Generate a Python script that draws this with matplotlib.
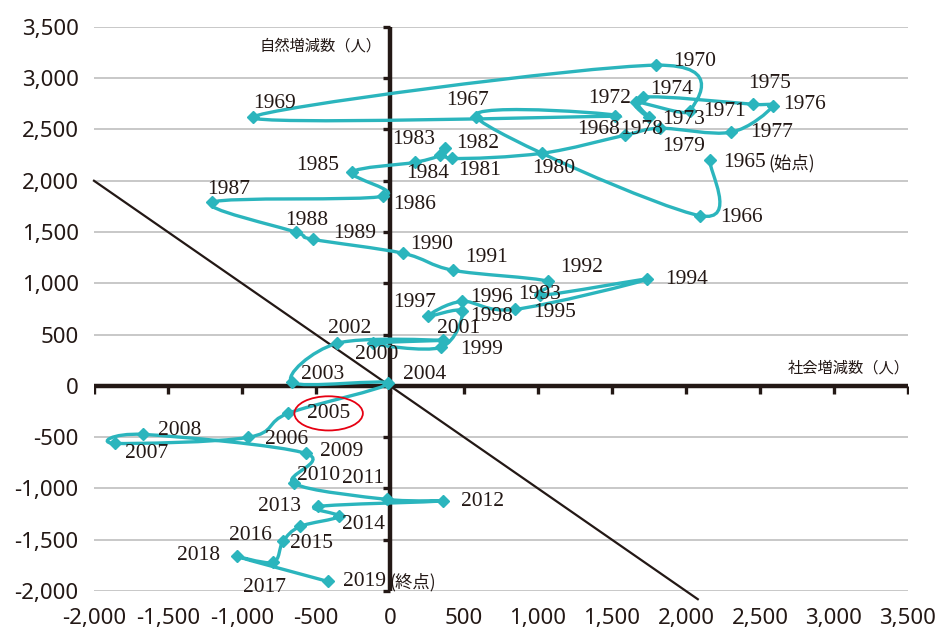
import numpy as np
import matplotlib
matplotlib.use('Agg')
import matplotlib.pyplot as plt
from matplotlib.path import Path
from matplotlib.patches import PathPatch
from matplotlib.ticker import FuncFormatter

plt.rcParams['axes.unicode_minus'] = False

# 年ごとの社会増減数(x) と 自然増減数(y)
years = list(range(1965, 2020))
social = [2162, 2095, 581, 1520, -925, 1797, 2027, 1662, 1750, 1709,
          2453, 2588, 2304, 1824, 1588, 1027, 419, 372, 338, 169,
          -257, -47, -1203, -635, -520, 88, 426, 1068, 1014, 1736,
          845, 486, 257, 486, 345, -115, 358, -358, -662, -14,
          -689, -959, -1858, -1669, -568, -649, -20, 358, -486, -345,
          -608, -723, -791, -1034, -419]
natural = [2200, 1659, 2620, 2629, 2620, 3127, 2678, 2766, 2620, 2815,
           2746, 2727, 2473, 2512, 2444, 2268, 2219, 2317, 2248, 2180,
           2083, 1849, 1790, 1498, 1429, 1293, 1127, 1020, 883, 1039,
           746, 824, 678, 727, 376, 415, 444, 415, 34, 24,
           -268, -502, -561, -473, -659, -951, -1107, -1122, -1176, -1273,
           -1371, -1517, -1722, -1663, -1907]
tick_values = list(range(-2000, 3501, 500))
suffix = {1965: '(始点)', 2019: '(終点)'}

# ラベル位置 (マーカーからのずれ, pixel, 右/上が正)
label_offsets = {
    1965: (13, -2), 1966: (20, -2), 1967: (-30, 17), 1968: (-38, -13),
    1969: (0, 14), 1970: (17, 4), 1971: (13, 0), 1972: (-48, 4),
    1973: (13, -2), 1974: (7, 8), 1975: (-5, 21), 1976: (10, 2),
    1977: (19, 0), 1978: (-40, -1), 1979: (37, -11), 1980: (-10, -15),
    1981: (6, -12), 1982: (11, 5), 1983: (-48, 16), 1984: (-9, -11),
    1985: (-56, 7), 1986: (10, -8), 1987: (-5, 13), 1988: (-11, 12),
    1989: (20, 6), 1990: (7, 9), 1991: (12, 13), 1992: (12, 14),
    1993: (-22, 1), 1994: (18, 0), 1995: (18, -3), 1996: (8, 4),
    1997: (-35, 14), 1998: (8, -5), 1999: (19, -2), 2000: (-18, -11),
    2001: (-6, 12), 2002: (-9, 15), 2003: (9, 8), 2004: (15, 9),
    2005: (19, 0), 2006: (17, -2), 2007: (10, -10), 2008: (15, 4),
    2009: (14, 2), 2010: (3, 8), 2011: (-45, 21), 2012: (18, -1),
    2013: (-60, 0), 2014: (3, -8), 2015: (-10, -17), 2016: (-54, 6),
    2017: (-30, -25), 2018: (-60, 1), 2019: (15, 0),
}

TEAL = '#2bb5bd'
INK = '#231815'


def smooth_path(xs, ys, sx, sy):
    """Excel風のスムージング線 (ベジェ曲線) を作る"""
    p = np.column_stack([np.asarray(xs) * sx, np.asarray(ys) * sy]).astype(float)
    n = len(p)
    verts = [p[0]]
    codes = [Path.MOVETO]
    for i in range(n - 1):
        p0 = p[i - 1] if i > 0 else p[i]
        p3 = p[i + 2] if i + 2 < n else p[i + 1]
        c1 = p[i] + (p[i + 1] - p0) / 6
        c2 = p[i + 1] - (p3 - p[i]) / 6
        verts += [c1, c2, p[i + 1]]
        codes += [Path.CURVE4] * 3
    verts = np.array(verts)
    verts[:, 0] /= sx
    verts[:, 1] /= sy
    return Path(verts, codes)


fig = plt.figure(figsize=(9.37, 6.41), dpi=100)
ax = fig.add_axes([0.1003, 0.078, 0.8687, 0.880])
ax.set_xlim(-2000, 3500)
ax.set_ylim(-2000, 3500)
for s in ax.spines.values():
    s.set_visible(False)

ax.set_xticks(tick_values)
ax.set_yticks(tick_values)
fmt = FuncFormatter(lambda v, pos: f'{int(v):,}')
ax.xaxis.set_major_formatter(fmt)
ax.yaxis.set_major_formatter(fmt)
ax.tick_params(axis='both', length=0, labelsize=16, labelcolor=INK)
ax.tick_params(axis='x', pad=12)
ax.tick_params(axis='y', pad=11)
for lab in ax.get_xticklabels() + ax.get_yticklabels():
    lab.set_fontfamily('Noto Sans')
ax.yaxis.grid(True, color='#bfbfbf', lw=1.2)
ax.set_axisbelow(True)

# 対角線
ax.plot([-2000, 2080], [2000, -2080], color=INK, lw=1.6, clip_on=False, zorder=2)

# 軸線と目盛
ax.plot([-2000, 3500], [0, 0], color=INK, lw=3.2, solid_capstyle='butt', zorder=3)
ax.plot([0, 0], [-2000, 3500], color=INK, lw=3.2, solid_capstyle='butt',
        clip_on=False, zorder=3)
ax.plot(tick_values, [0] * len(tick_values), ls='none', marker=3, ms=6, mew=2.4,
        color=INK, zorder=3)
ax.plot([0] * len(tick_values), tick_values, ls='none', marker=0, ms=5, mew=2.4,
        color=INK, zorder=3, clip_on=False)

# 推移線
path = smooth_path(social, natural, 814 / 5500, 564 / 5500)
ax.add_patch(PathPatch(path, fc='none', ec=TEAL, lw=2.4, zorder=4))
ax.plot(social, natural, ls='none', marker='D', ms=6, color=TEAL, zorder=5)

for yr, x, y in zip(years, social, natural):
    dx, dy = label_offsets[yr]
    kw = {}
    if yr == 2005:
        kw['bbox'] = dict(boxstyle='ellipse,pad=0.12', fc='none', ec='#e60012', lw=1.3)
    t = ax.annotate(str(yr), xy=(x, y), xytext=(dx, dy), textcoords='offset pixels',
                    ha='left', va='center', fontsize=15.5, color=INK,
                    family='Liberation Serif', zorder=6, **kw)
    if yr in suffix:
        ax.annotate(suffix[yr], xy=(1, 0.45), xycoords=t, xytext=(3, 0),
                    textcoords='offset pixels', ha='left', va='center',
                    fontsize=12.5, color=INK, family=['Noto Sans CJK JP'], zorder=6)

ax.annotate('自然増減数（人）', xy=(0, 3500), xytext=(-8, -19), textcoords='offset pixels',
            ha='right', va='center', fontsize=11, color=INK,
            family=['Noto Sans CJK JP'])
ax.annotate('社会増減数（人）', xy=(3500, 0), xytext=(2, 18), textcoords='offset pixels',
            ha='right', va='center', fontsize=11, color=INK,
            family=['Noto Sans CJK JP'])

fig.savefig('out.png', dpi=100)
